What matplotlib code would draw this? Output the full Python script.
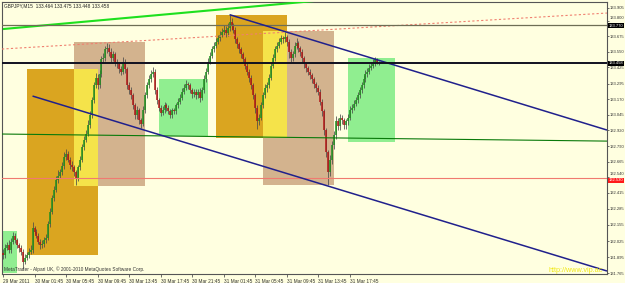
import matplotlib
matplotlib.use("Agg")
import matplotlib.pyplot as plt
import matplotlib.transforms as mtransforms
from matplotlib.patches import Rectangle
import numpy as np

# ---------------- data (GBPJPY, M15) ----------------
symbol_header = "GBPJPY,M15  133.464 133.475 133.448 133.458"
first_open = 131.93
closes = [
    131.91, 131.97, 131.99, 131.95, 132.02, 132.07, 132.03, 131.99, 131.97, 131.94,
    131.86, 131.89, 131.91, 131.94, 131.95, 132.13, 132.10, 132.07, 132.02, 131.99,
    132.00, 132.03, 132.05, 132.16, 132.26, 132.37, 132.44, 132.52, 132.55, 132.58,
    132.63, 132.70, 132.73, 132.68, 132.64, 132.62, 132.58, 132.53, 132.62, 132.68,
    132.78, 132.84, 132.89, 132.96, 133.04, 133.16, 133.28, 133.34, 133.28, 133.37,
    133.49, 133.50, 133.57, 133.58, 133.55, 133.50, 133.53, 133.47, 133.45, 133.41,
    133.39, 133.47, 133.41, 133.28, 133.24, 133.20, 133.12, 133.04, 133.08, 133.00,
    132.97, 133.08, 133.20, 133.28, 133.33, 133.37, 133.39, 133.24, 133.16, 133.10,
    133.06, 133.08, 133.12, 133.10, 133.07, 133.04, 133.08, 133.07, 133.12, 133.15,
    133.18, 133.23, 133.26, 133.29, 133.28, 133.24, 133.21, 133.23, 133.20, 133.23,
    133.18, 133.24, 133.33, 133.39, 133.47, 133.52, 133.57, 133.60, 133.63, 133.66,
    133.69, 133.71, 133.73, 133.70, 133.74, 133.79, 133.76, 133.73, 133.65, 133.61,
    133.57, 133.53, 133.49, 133.44, 133.39, 133.34, 133.28, 133.20, 133.10, 132.99,
    133.02, 133.12, 133.20, 133.26, 133.28, 133.34, 133.44, 133.50, 133.57, 133.60,
    133.63, 133.66, 133.65, 133.67, 133.63, 133.55, 133.50, 133.53, 133.60, 133.62,
    133.58, 133.55, 133.50, 133.45, 133.42, 133.39, 133.36, 133.33, 133.29, 133.26,
    133.23, 133.15, 133.07, 132.92, 132.74, 132.58, 132.68, 132.80, 132.88, 132.99,
    132.95, 133.02, 133.00, 132.96, 132.99, 133.02, 133.08, 133.10, 133.13, 133.16,
    133.20, 133.24, 133.28, 133.33, 133.37, 133.39, 133.42, 133.44, 133.46, 133.49,
    133.464, 133.458,
]
highs = [
    131.96, 132.00, 132.02, 132.03, 132.05, 132.10, 132.09, 132.05, 132.01, 131.99,
    131.96, 131.92, 131.94, 131.97, 131.99, 132.18, 132.15, 132.12, 132.09, 132.04,
    132.03, 132.06, 132.08, 132.19, 132.29, 132.40, 132.47, 132.55, 132.60, 132.61,
    132.66, 132.74, 132.77, 132.75, 132.70, 132.67, 132.64, 132.60, 132.64, 132.71,
    132.81, 132.87, 132.92, 133.00, 133.07, 133.19, 133.31, 133.38, 133.37, 133.40,
    133.52, 133.54, 133.60, 133.62, 133.61, 133.58, 133.56, 133.55, 133.49, 133.47,
    133.44, 133.51, 133.49, 133.43, 133.31, 133.27, 133.22, 133.14, 133.11, 133.10,
    133.02, 133.11, 133.23, 133.31, 133.36, 133.40, 133.43, 133.41, 133.27, 133.18,
    133.12, 133.11, 133.15, 133.14, 133.12, 133.09, 133.10, 133.10, 133.14, 133.18,
    133.21, 133.26, 133.29, 133.32, 133.31, 133.30, 133.26, 133.25, 133.25, 133.25,
    133.26, 133.27, 133.36, 133.42, 133.50, 133.55, 133.60, 133.63, 133.66, 133.69,
    133.72, 133.74, 133.77, 133.76, 133.78, 133.85, 133.82, 133.78, 133.75, 133.67,
    133.63, 133.59, 133.55, 133.51, 133.46, 133.41, 133.36, 133.30, 133.22, 133.12,
    133.05, 133.15, 133.23, 133.29, 133.31, 133.37, 133.47, 133.53, 133.60, 133.63,
    133.66, 133.69, 133.68, 133.71, 133.69, 133.65, 133.57, 133.56, 133.63, 133.66,
    133.64, 133.60, 133.57, 133.52, 133.47, 133.44, 133.41, 133.38, 133.35, 133.31,
    133.28, 133.25, 133.17, 133.09, 132.94, 132.76, 132.72, 132.83, 132.91, 133.03,
    133.02, 133.05, 133.04, 133.02, 133.01, 133.05, 133.11, 133.13, 133.16, 133.19,
    133.23, 133.27, 133.31, 133.36, 133.40, 133.42, 133.45, 133.47, 133.49, 133.51,
    133.50, 133.475,
]
lows = [
    131.88, 131.89, 131.95, 131.93, 131.93, 132.00, 132.01, 131.97, 131.94, 131.91,
    131.80, 131.84, 131.87, 131.89, 131.92, 131.93, 132.08, 132.05, 132.00, 131.96,
    131.97, 131.98, 132.01, 132.03, 132.14, 132.24, 132.35, 132.42, 132.49, 132.53,
    132.56, 132.61, 132.68, 132.66, 132.61, 132.59, 132.55, 132.48, 132.51, 132.60,
    132.66, 132.76, 132.82, 132.87, 132.94, 133.02, 133.14, 133.26, 133.25, 133.26,
    133.35, 133.46, 133.48, 133.54, 133.52, 133.47, 133.48, 133.44, 133.42, 133.38,
    133.36, 133.37, 133.38, 133.25, 133.21, 133.17, 133.09, 133.01, 133.01, 132.97,
    132.94, 132.95, 133.06, 133.18, 133.26, 133.31, 133.35, 133.21, 133.13, 133.07,
    133.03, 133.04, 133.06, 133.07, 133.05, 133.02, 133.02, 133.05, 133.05, 133.10,
    133.13, 133.16, 133.21, 133.24, 133.25, 133.22, 133.18, 133.19, 133.17, 133.18,
    133.15, 133.16, 133.22, 133.31, 133.37, 133.45, 133.50, 133.55, 133.58, 133.61,
    133.64, 133.67, 133.69, 133.67, 133.68, 133.72, 133.73, 133.70, 133.62, 133.58,
    133.54, 133.50, 133.46, 133.41, 133.36, 133.31, 133.25, 133.17, 133.06, 132.93,
    132.96, 133.00, 133.10, 133.18, 133.23, 133.26, 133.32, 133.42, 133.48, 133.55,
    133.58, 133.61, 133.62, 133.63, 133.60, 133.50, 133.47, 133.48, 133.51, 133.57,
    133.55, 133.52, 133.47, 133.42, 133.39, 133.36, 133.33, 133.30, 133.26, 133.23,
    133.20, 133.12, 133.03, 132.88, 132.70, 132.48, 132.55, 132.65, 132.77, 132.85,
    132.92, 132.92, 132.97, 132.93, 132.93, 132.96, 133.00, 133.06, 133.08, 133.11,
    133.14, 133.18, 133.22, 133.26, 133.31, 133.35, 133.37, 133.40, 133.42, 133.44,
    133.45, 133.448,
]

# time axis labels (bar index -> label)
time_tick_bars = [0, 16, 32, 48, 64, 80, 96, 112, 128, 144, 160, 176]
time_tick_labels = ["29 Mar 2011", "30 Mar 01:45", "30 Mar 05:45", "30 Mar 09:45",
                    "30 Mar 13:45", "30 Mar 17:45", "30 Mar 21:45", "31 Mar 01:45",
                    "31 Mar 05:45", "31 Mar 09:45", "31 Mar 13:45", "31 Mar 17:45"]

# price scale labels
price_ticks = [133.905, 133.800, 133.675, 133.550, 133.425, 133.295, 133.170, 133.045,
               132.920, 132.790, 132.665, 132.540, 132.415, 132.285, 132.155, 132.025,
               131.895, 131.765]

# chart objects: rectangles (start bar, end bar, low price, high price)
rect_names = ["green0", "orangeA", "tanA", "yellowA", "greenA",
              "orangeB", "tanB", "yellowB", "greenB"]
rect_start = [-1, 12, 36, 36, 79, 108, 132, 132, 175]
rect_end = [7, 48, 72, 48, 104, 144, 168, 144, 199]
rect_low = [131.77, 131.91, 132.47, 132.47, 132.87, 132.86, 132.48, 132.86, 132.82]
rect_high = [132.11, 133.41, 133.63, 133.41, 133.33, 133.85, 133.72, 133.72, 133.50]

# horizontal levels
level_olive = 133.770
level_black = 133.458
level_red = 132.530

# trend lines: (bar0, price0, bar1, price1)
lime_line = (0, 133.734, 158, 133.960)
salmon_line = (-0.5, 133.573, 306.6, 133.863)
navy_upper = (115, 133.850, 306.6, 132.920)
navy_lower = (15, 133.194, 306.6, 131.784)
green_line = (-0.5, 132.888, 306.6, 132.831)

# ---------------- figure ----------------
BG = "#FFFFE0"
W, H = 625, 283
fig = plt.figure(figsize=(W / 100, H / 100), dpi=100, facecolor=BG)
ax = fig.add_axes([2 / W, (H - 274) / H, 605 / W, 272 / H], facecolor=BG)
ax.set_xlim(-0.5, 306.6)
ax.set_ylim(131.760, 133.952)

FONT = ["Liberation Sans", "DejaVu Sans"]
FS = 3.4
FSY = 3.0

rect_colors = {"green0": "#90EE90", "orangeA": "#DAA520", "tanA": "#D3B38E",
               "yellowA": "#F5E34A", "greenA": "#90EE90", "orangeB": "#DAA520",
               "tanB": "#D3B38E", "yellowB": "#F5E34A", "greenB": "#90EE90"}
rect_z = {"green0": 1, "orangeA": 1.2, "tanA": 1.1, "yellowA": 1.3, "greenA": 1,
          "orangeB": 1.2, "tanB": 1.1, "yellowB": 1.3, "greenB": 1}
for n, x0, x1, lo, hi in zip(rect_names, rect_start, rect_end, rect_low, rect_high):
    ax.add_patch(Rectangle((x0, lo), x1 - x0, hi - lo, facecolor=rect_colors[n],
                           edgecolor="none", zorder=rect_z[n]))

# candles
x = np.arange(len(closes))
c = np.array(closes)
o = np.array([first_open] + closes[:-1])
hh = np.array(highs)
ll = np.array(lows)
ax.vlines(x, ll, hh, color="#4a4a4a", lw=0.55, zorder=3)
bull = c >= o
ax.vlines(x[bull], o[bull], c[bull], color="#1F8F1F", lw=1.1, zorder=4)
ax.vlines(x[~bull], o[~bull], c[~bull], color="#B01515", lw=1.1, zorder=4)

# lines
def seg(t, **kw):
    ax.plot([t[0], t[2]], [t[1], t[3]], solid_capstyle="butt", **kw)

seg(lime_line, color="#1EE01E", lw=1.5, zorder=5)
seg(salmon_line, color="#F08070", lw=0.8, ls=(0, (2, 2)), zorder=5)
seg(green_line, color="#0A7A0A", lw=0.8, zorder=5)
seg(navy_upper, color="#20208C", lw=1.1, zorder=6)
seg(navy_lower, color="#20208C", lw=1.1, zorder=6)
ax.axhline(level_olive, color="#6E6E55", lw=0.9, zorder=5)
ax.axhline(level_black, color="#101020", lw=1.4, zorder=6)
ax.axhline(level_red, color="#F07A70", lw=0.8, zorder=5)

# axes styling
for s in ax.spines.values():
    s.set_color("#555555")
    s.set_linewidth(0.8)
ax.yaxis.tick_right()
ax.set_yticks(price_ticks)
ax.set_yticklabels([f"{v:.3f}" for v in price_ticks], fontsize=FSY, family=FONT,
                   color="#333333")
ax.set_xticks(time_tick_bars)
ax.set_xticklabels(time_tick_labels, fontsize=FS, family=FONT, color="#333333",
                   ha="left")
ax.tick_params(axis="x", length=2.5, width=0.6, color="#555555", pad=1)
ax.tick_params(axis="y", length=1.5, width=0.6, color="#555555", pad=0.6)

tr = mtransforms.blended_transform_factory(ax.transAxes, ax.transData)

# scale labels next to the highlighted price labels: drawn nudged apart
for lab, v in zip(ax.get_yticklabels(), price_ticks):
    if any(abs(v - lv) < 0.045 for lv in (level_olive, level_red)):
        lab.set_visible(False)
        up = mtransforms.offset_copy(tr, fig=fig, x=0, y=3.0, units="dots")
        ax.text(1.0045, v, f"{v:.3f}", transform=up, fontsize=FSY, family=FONT,
                color="#333333", va="center", ha="left", clip_on=False)

# highlighted price labels
for val, bg, dy in [(level_olive, "#000000", -1.0), (level_black, "#000000", 0.0),
                    (level_red, "#FF1A1A", -2.0)]:
    t = mtransforms.offset_copy(tr, fig=fig, x=0, y=dy, units="dots")
    ax.text(1.003, val, f"{val:.3f}", transform=t, fontsize=FSY, family=FONT,
            color="white", va="center", ha="left", zorder=10, clip_on=False,
            bbox=dict(facecolor=bg, edgecolor="none", pad=0.4))

# texts
fig.text(4 / W, 1 - 5.5 / H, symbol_header, fontsize=FS, family=FONT,
         color="#222222", va="center", ha="left")
ax.text(0.003, 0.018, "MetaTrader - Alpari UK, \u00a9 2001-2010 MetaQuotes Software Corp.",
        transform=ax.transAxes, fontsize=FS, family=FONT, color="#333333",
        va="center", ha="left", zorder=10)
ax.text(0.903, 0.012, "http://www.vip.ac", transform=ax.transAxes, fontsize=5.2,
        family=FONT, color="#F0E818", va="center", ha="left", zorder=10,
        clip_on=True)

fig.savefig("out.png", dpi=100, facecolor=BG)
